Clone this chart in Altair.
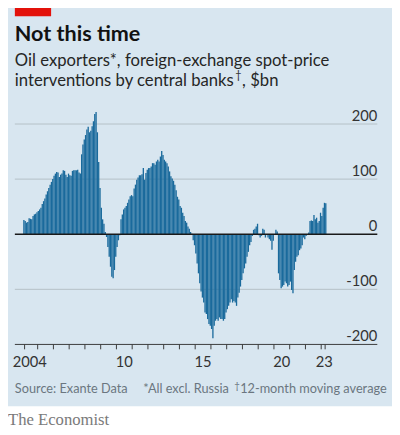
import altair as alt
import pandas as pd

# ---- data (monthly, 12-month moving average, $bn), Feb 2004 .. Apr 2023 ----
start_year = 2004
start_month = 2  # February
values = [
    # 2004 (Feb-Dec)
    26, 24, 21, 22, 29, 28, 27, 33, 36, 37, 40,
    # 2005
    42, 45, 48, 55, 60, 65, 72, 78, 84, 90, 95, 100,
    # 2006
    106, 110, 113, 112, 104, 108, 110, 116, 115, 108, 104, 110,
    # 2007
    107, 106, 115, 116, 116, 116, 117, 112, 110, 145, 163, 172,
    # 2008
    180, 190, 195, 185, 188, 196, 205, 218, 222, 185, 131, 84,
    # 2009
    48, 27, 19, 4, -5, -23, -41, -59, -77, -80, -65, -41,
    # 2010
    -23, -11, -2, 27, 36, 45, 48, 51, 57, 63, 69, 71,
    # 2011
    69, 83, 90, 99, 103, 107, 107, 109, 120, 99, 111, 117,
    # 2012
    120, 120, 123, 129, 129, 126, 132, 135, 132, 141, 151, 144,
    # 2013
    135, 132, 129, 123, 114, 105, 101, 97, 90, 80, 68, 63,
    # 2014
    51, 48, 39, 33, 24, 21, 14, 10, 4, 1, -11, -20,
    # 2015
    -35, -53, -71, -89, -104, -115, -124, -142, -145, -154, -163, -166,
    # 2016
    -172, -189, -166, -157, -154, -157, -151, -154, -154, -157, -154, -142,
    # 2017
    -136, -130, -124, -118, -124, -121, -124, -130, -115, -106, -95, -83,
    # 2018
    -71, -62, -53, -41, -32, -20, -14, -3, 8, 10, 14, 19,
    # 2019
    -2, -6, -3, 10, 8, -6, -1, -6, -9, -12, -28, -12,
    # 2020
    0, 8, 5, -71, -83, -98, -95, -92, -86, -89, -95, -92,
    # 2021
    -86, -101, -107, -65, -50, -41, -38, -29, -26, -20, -6, -9,
    # 2022
    -3, -1, 3, 24, 25, 24, 35, 27, 30, 21, 24, 39,
    # 2023 (Jan-Apr)
    33, 48, 57, 56,
]

y_ticks = [200, 100, 0, -100, -200]
y_tick_labels = ["200", "100", "0", "-100", "-200"]
grid_values = [200, 100, -100]

x_tick_years = list(range(2005, 2024)) + [2004.17, 2023.25]
x_label_pos = [2004.5, 2010.5, 2015.5, 2020.5, 2023.2]
x_label_text = ["2004", "10", "15", "20", "23"]

title_text = "Not this time"
subtitle_1 = "Oil exporters*, foreign-exchange spot-price"
subtitle_2a = "interventions by central banks"
subtitle_2b = ", $bn"
footer_parts = ["Source: Exante Data", "*All excl. Russia", "12-month moving average"]
brand_text = "The Economist"

# ---- styling ----
BG = "#d8e6f0"
BAR = "#1a6a9c"
GRID = "#b4bfc6"
FONT = "Lato"
W, H = 370, 243

# ---- build tables ----
rows = []
for i, v in enumerate(values):
    t0 = start_year + (start_month - 1 + i) / 12
    rows.append({"t0": t0, "t1": t0 + 1 / 12, "v": v, "zero": 0})
bars_df = pd.DataFrame(rows)

xs = alt.Scale(domain=[2003.552, 2026.562], nice=False, zero=False)
ys = alt.Scale(domain=[-200, 232], nice=False, zero=False)

bars = alt.Chart(bars_df).mark_rect(color=BAR).encode(
    x=alt.X("t0:Q", scale=xs, axis=None),
    x2="t1:Q",
    y=alt.Y("v:Q", scale=ys, axis=None),
    y2="zero:Q",
)

grid = alt.Chart(pd.DataFrame({"g": grid_values})).mark_rule(
    color=GRID, strokeWidth=1
).encode(y=alt.Y("g:Q", scale=ys, axis=None), x=alt.value(0), x2=alt.value(W))

zero_line = alt.Chart(pd.DataFrame({"g": [0]})).mark_rule(
    color="#1a1a1a", strokeWidth=1.6
).encode(y=alt.Y("g:Q", scale=ys, axis=None), x=alt.value(0), x2=alt.value(W))

base_line = alt.Chart(pd.DataFrame({"g": [-200]})).mark_rule(
    color="#3a3a3a", strokeWidth=1
).encode(y=alt.Y("g:Q", scale=ys, axis=None), x=alt.value(0), x2=alt.value(W))

ticks = alt.Chart(pd.DataFrame({"t": x_tick_years})).mark_rule(
    color="#3a3a3a", strokeWidth=1
).encode(x=alt.X("t:Q", scale=xs, axis=None), y=alt.value(H), y2=alt.value(H + 5))

x_labels = alt.Chart(pd.DataFrame({"t": x_label_pos, "lab": x_label_text})).mark_text(
    font=FONT, fontSize=15, color="#333333", align="center", baseline="alphabetic"
).encode(x=alt.X("t:Q", scale=xs, axis=None), y=alt.value(H + 23), text="lab:N")

y_labels = alt.Chart(pd.DataFrame({"v": y_ticks, "lab": y_tick_labels})).mark_text(
    font=FONT, fontSize=15, color="#333333", align="right", baseline="alphabetic", dy=-3.5
).encode(y=alt.Y("v:Q", scale=ys, axis=None), x=alt.value(W), text="lab:N")

one = pd.DataFrame({"a": [0]})

red_box = alt.Chart(one).mark_rect(color="#e3120b").encode(
    x=alt.value(0), x2=alt.value(37), y=alt.value(-104), y2=alt.value(-92)
)

def label(text, y, size, weight="normal", color="#1a1a1a", font=FONT, x=0):
    return alt.Chart(one).mark_text(
        text=text, font=font, fontSize=size, fontWeight=weight, color=color,
        align="left", baseline="alphabetic",
    ).encode(x=alt.value(x), y=alt.value(y))

title = label(title_text, -67, 22, weight="bold", color="#121212")
sub1 = label(subtitle_1, -41, 17, color="#262626")
sub2a = label(subtitle_2a, -21, 17, color="#262626")
dagger = label("\u2020", -28, 11, color="#262626", x=225)
sub2b = label(subtitle_2b, -21, 17, color="#262626", x=232)

FOOT = "#6b7680"
foot1 = label(footer_parts[0], 293, 13, color=FOOT, x=0)
foot2 = label(footer_parts[1], 293, 13, color=FOOT, x=131)
foot_dag = label("\u2020", 288, 10, color=FOOT, x=224)
foot3 = label(footer_parts[2], 293, 13, color=FOOT, x=230)

white_strip = alt.Chart(one).mark_rect(color="white").encode(
    x=alt.value(-7), x2=alt.value(390), y=alt.value(306), y2=alt.value(345)
)
brand = label(brand_text, 325, 17, color="#7a7a7a", font="Liberation Serif", x=-7)

chart = alt.layer(
    grid, bars, zero_line, base_line, ticks, x_labels, y_labels,
    red_box, title, sub1, sub2a, dagger, sub2b,
    foot1, foot2, foot_dag, foot3, white_strip, brand,
).properties(
    width=W,
    height=H,
    background=BG,
    autosize=alt.AutoSizeParams(type="none"),
    padding={"left": 7, "top": 96, "right": 15, "bottom": 87},
).configure_view(stroke=None)

chart.save("out.html", embed_options={"renderer": "svg", "actions": False})
